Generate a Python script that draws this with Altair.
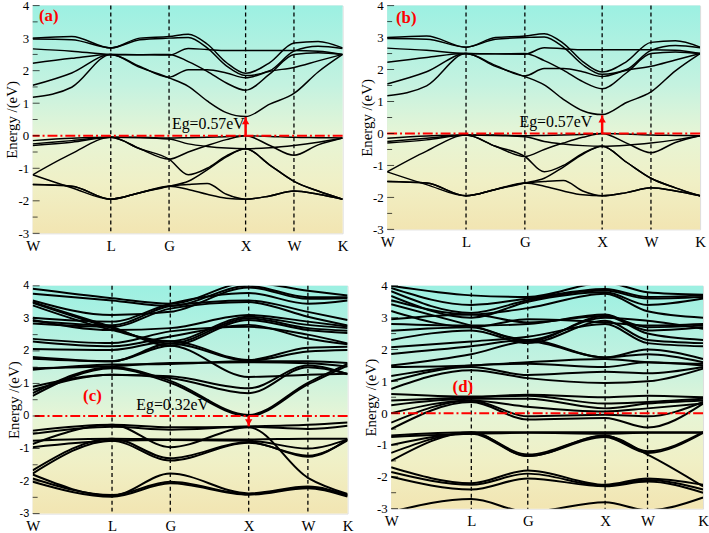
import altair as alt
import pandas as pd

# ---------------- data ----------------
K_NAMES = ["W", "L", "G", "X", "W", "K"]
Y_MAJOR = [-3, -2, -1, 0, 1, 2, 3, 4]
Y_MINOR = [-2.5, -1.5, -0.5, 0.5, 1.5, 2.5, 3.5]

# panels (a)/(b): 13-point path grid
KPOS_A = [0.0, 0.252, 0.44, 0.687, 0.843, 1.0]
KGRID_A = [0.0, 0.126, 0.252, 0.346, 0.44, 0.502, 0.563, 0.625, 0.687, 0.765, 0.843, 0.921, 1.0]

A_C1 = [3.00, 3.05, 2.70, 3.00, 3.05, 3.12, 2.82, 2.25, 1.92, 2.25, 2.85, 2.90, 2.70]
A_C2 = [2.97, 2.95, 2.70, 2.95, 3.00, 3.02, 2.70, 2.15, 1.85, 2.00, 2.60, 2.75, 2.68]
A_C3 = [2.67, 2.60, 2.50, 2.49, 2.48, 2.68, 2.65, 2.62, 2.62, 2.62, 2.62, 2.60, 2.50]
A_C4 = [2.23, 2.38, 2.50, 2.49, 2.50, 2.28, 1.98, 1.62, 1.40, 1.90, 2.50, 2.55, 2.50]
A_C5 = [1.55, 1.93, 2.50, 2.13, 1.80, 2.03, 2.03, 1.93, 1.78, 1.98, 2.10, 2.30, 2.50]
A_C6 = [1.18, 1.49, 2.50, 2.10, 1.78, 1.52, 1.07, 0.71, 0.59, 0.97, 1.30, 1.96, 2.50]
A_V1 = [-0.15, -0.08, -0.05, -0.05, -0.07, -0.06, -0.05, -0.03, 0.00, -0.02, -0.05, -0.06, -0.07]
A_V2 = [-0.25, -0.15, -0.05, -0.40, -0.72, -0.50, -0.30, -0.12, 0.00, -0.30, -0.60, -0.28, -0.07]
A_V3 = [-0.30, -0.20, -0.05, -0.06, -0.10, -0.25, -0.33, -0.38, -0.40, -0.37, -0.30, -0.20, -0.07]
A_V4 = [-1.20, -0.55, -0.05, -0.40, -0.72, -1.20, -1.00, -0.62, -0.40, -0.90, -1.40, -1.70, -1.95]
A_V5 = [-1.20, -1.60, -1.95, -1.75, -1.55, -1.40, -1.05, -0.65, -0.40, -0.90, -1.40, -1.70, -1.95]
A_V6 = [-1.50, -1.55, -1.95, -1.75, -1.55, -1.50, -1.47, -1.80, -1.95, -1.85, -1.70, -1.80, -1.95]
A_V7 = [-1.50, -1.55, -1.95, -1.75, -1.55, -1.65, -1.80, -1.92, -1.95, -1.85, -1.70, -1.80, -1.95]
BANDS_A = [A_C1, A_C2, A_C3, A_C4, A_C5, A_C6, A_V1, A_V2, A_V3, A_V4, A_V5, A_V6, A_V7]

# panel (c): values at W, L, G, X, W, K
KPOS_C = [0.0, 0.252, 0.437, 0.686, 0.874, 1.0]
C_V1 = [-0.45, -0.27, -0.35, -0.32, -0.27, -0.20]
C_V2 = [-0.55, -0.33, -0.42, -0.33, -0.40, -0.30]
C_V3 = [-0.86, -0.27, -0.96, -0.35, -1.90, -2.40]
C_V4 = [-0.76, -0.70, -0.72, -0.72, -0.70, -0.70]
C_V5 = [-0.96, -0.76, -0.74, -0.76, -1.00, -0.72]
C_V6 = [-1.67, -0.70, -1.30, -0.80, -1.25, -0.72]
C_V7 = [-1.77, -0.76, -1.37, -0.82, -1.22, -0.75]
C_V8 = [-1.92, -2.43, -2.02, -2.40, -2.20, -2.43]
C_V9 = [-2.02, -2.48, -2.07, -2.42, -2.22, -2.48]
C_V10 = [-1.80, -2.45, -1.77, -2.38, -2.17, -2.45]
C_C1 = [0.62, 1.47, 1.02, 0.00, 0.97, 1.55]
C_C2 = [0.70, 1.50, 1.08, 0.03, 1.02, 1.60]
C_C3 = [0.80, 1.27, 1.17, 0.70, 1.50, 1.30]
C_C4 = [0.90, 1.27, 1.22, 0.85, 1.55, 1.28]
C_C5 = [1.42, 1.58, 1.60, 1.68, 1.68, 1.63]
C_C6 = [1.47, 1.53, 1.63, 1.65, 1.62, 1.52]
C_C7 = [1.76, 1.68, 2.16, 1.20, 1.27, 1.30]
C_C8 = [1.81, 1.68, 2.23, 1.70, 1.98, 2.03]
C_C9 = [2.06, 2.03, 2.30, 1.72, 2.10, 2.13]
C_C10 = [2.29, 2.14, 2.44, 2.80, 2.38, 2.20]
C_C11 = [2.37, 2.24, 2.60, 2.74, 2.50, 2.23]
C_C12 = [3.50, 2.74, 2.16, 2.95, 2.64, 2.55]
C_C13 = [3.48, 2.70, 2.23, 3.00, 2.70, 2.62]
C_C14 = [3.40, 2.64, 2.30, 3.05, 2.80, 2.70]
C_C15 = [2.95, 2.64, 2.70, 3.10, 2.90, 2.75]
C_C16 = [2.84, 2.74, 3.30, 3.50, 3.05, 2.78]
C_C17 = [2.92, 2.79, 3.38, 3.55, 3.20, 2.95]
C_C18 = [3.02, 2.90, 3.45, 3.78, 3.45, 3.55]
C_C19 = [3.55, 3.10, 3.20, 3.95, 3.60, 3.62]
C_C20 = [3.76, 3.55, 3.38, 4.00, 3.65, 3.65]
C_C21 = [3.91, 3.62, 3.45, 4.10, 3.85, 3.70]
BANDS_C = [C_V1, C_V2, C_V3, C_V4, C_V5, C_V6, C_V7, C_V8, C_V9, C_V10,
           C_C1, C_C2, C_C3, C_C4, C_C5, C_C6, C_C7, C_C8, C_C9, C_C10, C_C11,
           C_C12, C_C13, C_C14, C_C15, C_C16, C_C17, C_C18, C_C19, C_C20, C_C21]

# panel (d): values at W, L, G, X, W, K
KPOS_D = [0.0, 0.257, 0.438, 0.686, 0.822, 1.0]
D_V1 = [-3.10, -2.70, -3.10, -2.80, -3.05, -2.65]
D_V2 = [-1.70, -2.20, -1.80, -2.25, -2.05, -2.25]
D_V3 = [-1.85, -2.25, -1.90, -2.28, -2.10, -2.40]
D_V4 = [-2.00, -2.40, -2.05, -2.30, -2.15, -2.50]
D_V5 = [-1.50, -0.60, -1.35, -0.70, -1.20, -0.60]
D_V6 = [-1.25, -0.62, -1.30, -0.72, -1.30, -2.30]
D_V7 = [-1.00, -0.65, -1.35, -0.75, -1.25, -0.62]
D_V8 = [-0.70, -0.60, -0.60, -0.60, -0.60, -0.60]
D_V9 = [-0.75, -0.65, -0.62, -0.65, -0.62, -0.62]
D_V10 = [-0.50, 0.35, -0.20, -0.15, -0.45, 0.30]
D_V11 = [-0.30, 0.40, -0.10, -0.05, -0.10, 0.35]
D_C1 = [0.00, 0.40, 0.20, 0.05, 0.15, 0.30]
D_C2 = [0.25, 0.45, 0.45, 0.15, 0.30, 0.40]
D_C3 = [0.40, 0.50, 0.55, 0.30, 0.35, 0.45]
D_C4 = [0.60, 0.52, 0.58, 0.50, 0.55, 0.50]
D_C5 = [0.76, 1.35, 1.10, 0.95, 1.00, 1.40]
D_C6 = [1.00, 1.45, 1.20, 1.30, 1.25, 1.45]
D_C7 = [1.17, 1.50, 1.55, 1.45, 1.60, 1.50]
D_C8 = [1.45, 1.50, 1.60, 1.70, 1.60, 1.55]
D_C9 = [1.50, 1.85, 2.25, 1.75, 1.85, 1.60]
D_C10 = [1.86, 2.10, 2.30, 1.75, 2.00, 1.70]
D_C11 = [2.07, 2.25, 2.40, 2.80, 2.20, 2.10]
D_C12 = [2.30, 2.60, 2.20, 2.90, 2.30, 2.20]
D_C13 = [2.59, 2.70, 2.25, 3.05, 2.50, 2.30]
D_C14 = [2.80, 2.75, 2.80, 3.10, 2.60, 2.70]
D_C15 = [2.95, 3.10, 2.85, 3.05, 2.70, 2.75]
D_C16 = [3.21, 2.70, 2.95, 2.85, 2.75, 2.80]
D_C17 = [3.42, 2.75, 2.30, 3.00, 2.90, 2.65]
D_C18 = [3.55, 3.10, 3.30, 3.75, 3.20, 3.00]
D_C19 = [3.68, 3.00, 3.50, 3.80, 3.40, 3.60]
D_C20 = [3.83, 3.15, 3.55, 3.85, 3.60, 3.65]
D_C21 = [3.93, 3.40, 3.60, 3.90, 3.65, 3.70]
D_C22 = [4.00, 3.70, 3.65, 4.10, 3.80, 3.72]
BANDS_D = [D_V1, D_V2, D_V3, D_V4, D_V5, D_V6, D_V7, D_V8, D_V9, D_V10, D_V11,
           D_C1, D_C2, D_C3, D_C4, D_C5, D_C6, D_C7, D_C8, D_C9, D_C10, D_C11,
           D_C12, D_C13, D_C14, D_C15, D_C16, D_C17, D_C18, D_C19, D_C20, D_C21, D_C22]

# ---------------- styling ----------------
SERIF = "Liberation Serif"
GRAD = alt.Gradient(
    gradient="linear",
    stops=[
        alt.GradientStop(offset=0.0, color="#9cf0e2"),
        alt.GradientStop(offset=0.35, color="#c4f2e0"),
        alt.GradientStop(offset=0.57, color="#e6f5d6"),
        alt.GradientStop(offset=0.78, color="#f0f0c6"),
        alt.GradientStop(offset=1.0, color="#f2e5b2"),
    ],
    x1=0, x2=0, y1=0, y2=1,
)


def panel(kgrid, kpos, bands, w, h, lw, label, label_pos, eg=None, eg_pos=None,
          ylab_font=SERIF, ylab_size=13):
    rows = []
    for i, b in enumerate(bands):
        for k, e in zip(kgrid, b):
            rows.append({"band": i, "k": k, "E": e})
    df = pd.DataFrame(rows)

    xs = alt.Scale(domain=[0, 1], nice=False, zero=False)
    ys = alt.Scale(domain=[-3, 4], nice=False, zero=False)
    lab_expr = "[" + ",".join("'%s'" % n for n in K_NAMES) + "][indexof([" + \
        ",".join(repr(float(v)) for v in kpos) + "], datum.value)]"
    xax = alt.Axis(values=kpos, labelExpr=lab_expr, title=None, grid=False, domain=False,
                   ticks=False, labelFont=SERIF, labelFontSize=15, labelColor="black",
                   labelPadding=5, labelFlush=False)
    yax = alt.Axis(values=Y_MAJOR, labelExpr="'' + datum.value", title="Energy /(eV)",
                   grid=False, domain=False, ticks=False, labelFont=ylab_font,
                   labelFontSize=ylab_size, labelColor="black", labelPadding=4,
                   labelFlush=False, titleFont=SERIF, titleFontSize=15,
                   titleFontWeight="normal", titleColor="black", titlePadding=-2)
    X = lambda f: alt.X(f, scale=xs, axis=xax)
    Y = lambda f: alt.Y(f, scale=ys, axis=yax)

    bg = alt.Chart(pd.DataFrame({"x0": [0.0], "x1": [1.0], "y0": [-3.0], "y1": [4.0]})).mark_rect(
        fill=GRAD, strokeWidth=0).encode(x=X("x0:Q"), x2="x1:Q", y=Y("y0:Q"), y2="y1:Q")
    lines = alt.Chart(df).mark_line(color="black", strokeWidth=lw, interpolate="monotone",
                                    clip=True).encode(x=X("k:Q"), y=Y("E:Q"), detail="band:N")
    vlines = alt.Chart(pd.DataFrame({"k": kpos[1:5]})).mark_rule(
        color="black", strokeDash=[4, 3], strokeWidth=1.3).encode(x=X("k:Q"))
    fermi = alt.Chart(pd.DataFrame({"E": [0.0]})).mark_rule(
        color="#ff0000", strokeDash=[10, 3, 2, 3], strokeWidth=2).encode(y=Y("E:Q"))
    tmaj = alt.Chart(pd.DataFrame({"t": Y_MAJOR})).mark_tick(
        orient="horizontal", size=7, thickness=1, color="black").encode(x=alt.value(3.5), y=Y("t:Q"))
    tmin = alt.Chart(pd.DataFrame({"t": Y_MINOR})).mark_tick(
        orient="horizontal", size=5, thickness=1, color="black").encode(x=alt.value(2.5), y=Y("t:Q"))
    lab = alt.Chart(pd.DataFrame({"k": [label_pos[0]], "E": [label_pos[1]], "t": [label]})).mark_text(
        font=SERIF, fontSize=17, fontWeight="bold", color="#ff0000", align="left",
        baseline="middle").encode(x=X("k:Q"), y=Y("E:Q"), text="t:N")
    layers = [bg, lines, vlines, fermi, tmaj, tmin, lab]
    if eg is not None:
        xk = kpos[3]
        adf = pd.DataFrame({"k": [xk], "e0": [0.0], "e1": [eg]})
        arrow = alt.Chart(adf).mark_rule(color="#ff0000", strokeWidth=2.5).encode(
            x=X("k:Q"), y=Y("e0:Q"), y2="e1:Q")
        head = alt.Chart(adf).mark_point(
            shape="triangle-up" if eg > 0 else "triangle-down", filled=True, size=55,
            color="#ff0000", opacity=1, yOffset=4 if eg > 0 else -4).encode(x=X("k:Q"), y=Y("e1:Q"))
        txt = alt.Chart(pd.DataFrame({"k": [eg_pos[0]], "E": [eg_pos[1]],
                                      "t": ["Eg=%.2feV" % abs(eg)]})).mark_text(
            font=SERIF, fontSize=16, color="black", align="right", baseline="middle").encode(
            x=X("k:Q"), y=Y("E:Q"), text="t:N")
        layers += [arrow, head, txt]
    return alt.layer(*layers).properties(width=w, height=h)


pa = panel(KGRID_A, KPOS_A, BANDS_A, 313, 230, 1.5, "(a)", (0.02, 3.67), 0.57, (0.684, 0.36))
pb = panel(KGRID_A, KPOS_A, BANDS_A, 316, 226, 1.5, "(b)", (0.028, 3.62), 0.57, (0.655, 0.36))
pc = panel(KPOS_C, KPOS_C, BANDS_C, 318, 230, 2.0, "(c)", (0.16, 0.62), -0.32, (0.56, 0.35),
           ylab_font="Liberation Sans", ylab_size=11)
pd_ = panel(KPOS_D, KPOS_D, BANDS_D, 315, 225, 2.0, "(d)", (0.197, 0.83))

row1 = alt.hconcat(pa, pb, spacing=10)
row2 = alt.hconcat(pc, pd_, spacing=9)
chart = alt.vconcat(row1, row2, spacing=25).properties(
    padding={"left": 4, "top": -4, "right": 0, "bottom": 0}
).configure_view(stroke="black", strokeWidth=1.5).configure(background="white")

chart.save("out.html", embed_options={"renderer": "svg", "actions": False})
